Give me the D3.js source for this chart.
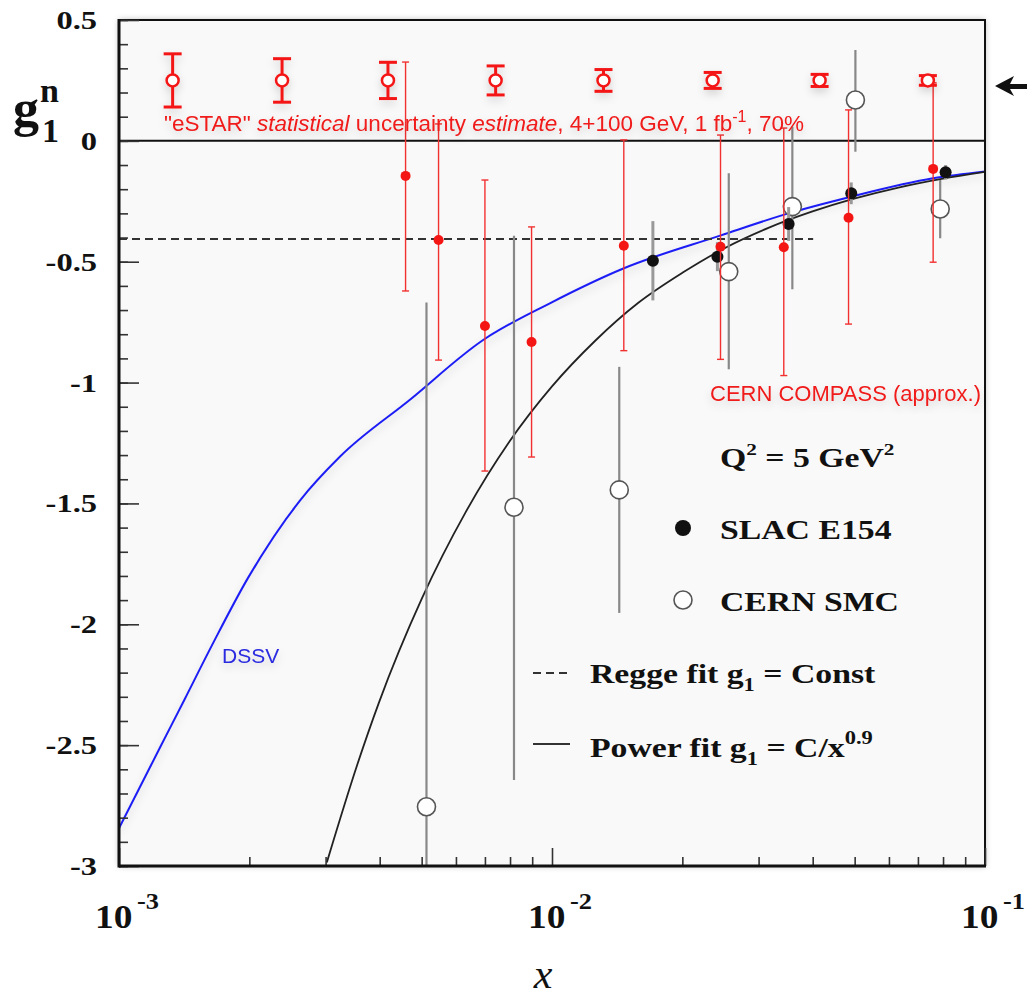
<!DOCTYPE html>
<html>
<head>
<meta charset="utf-8">
<script src="https://cdn.jsdelivr.net/npm/d3@7"></script>
<style>
body { margin: 0; background: #fff; }
</style>
</head>
<body>
<div class="chart"></div>
<script>
const width = 1027,
	height = 999

// eSTAR projected points (statistical uncertainty estimate)
const estarX = [0.00133, 0.00238, 0.00418, 0.00741, 0.01315, 0.0235, 0.0415, 0.0738]
const estarY = [0.25, 0.25, 0.25, 0.25, 0.25, 0.25, 0.25, 0.25]
const estarErr = [0.11, 0.09, 0.075, 0.06, 0.045, 0.033, 0.025, 0.02]

// CERN COMPASS (approx.)
const compassX = [0.00459, 0.00547, 0.0070, 0.00897, 0.01465, 0.0245, 0.0343, 0.0484, 0.0759]
const compassY = [-0.145, -0.41, -0.766, -0.832, -0.434, -0.438, -0.44, -0.318, -0.116]
const compassHi = [0.326, 0.07, -0.162, -0.356, 0.004, 0.024, 0.053, 0.128, 0.24]
const compassLo = [-0.621, -0.907, -1.366, -1.308, -0.868, -0.904, -0.971, -0.758, -0.502]

// SLAC E154
const slacX = [0.0171, 0.0241, 0.0352, 0.0491, 0.0811]
const slacY = [-0.496, -0.479, -0.344, -0.217, -0.13]
const slacErr = [0.164, 0.06, 0.07, 0.045, 0.03]

// CERN SMC
const smcX = [0.00513, 0.00817, 0.0143, 0.0256, 0.0359, 0.0502, 0.0788]
const smcY = [-2.755, -1.516, -1.444, -0.541, -0.272, 0.169, -0.282]
const smcHi = [-0.669, -0.393, -0.935, -0.134, 0.059, 0.376, -0.162]
const smcLo = [-4.84, -2.644, -1.953, -0.945, -0.614, -0.045, -0.403]

// DSSV curve
const dssvX = [0.001, 0.001242, 0.001419, 0.001648, 0.001986, 0.002612, 0.003236, 0.00469, 0.006934, 0.009886, 0.01466, 0.02455, 0.03516, 0.04909, 0.07586, 0.1]
const dssvY = [-2.844, -2.512, -2.309, -2.079, -1.808, -1.49, -1.307, -1.072, -0.824, -0.672, -0.527, -0.391, -0.3, -0.231, -0.155, -0.127]

// Power fit g1 = C/x^0.9
const powerX = [0.00302, 0.00355, 0.00398, 0.00501, 0.00631, 0.00794, 0.01, 0.0126, 0.0158, 0.02, 0.0251, 0.0316, 0.0398, 0.0501, 0.0631, 0.0794, 0.1]
const powerY = [-2.985, -2.581, -2.326, -1.892, -1.538, -1.249, -1.016, -0.826, -0.671, -0.546, -0.443, -0.36, -0.293, -0.238, -0.193, -0.157, -0.128]

// Regge fit g1 = Const
const reggeX = [0.001, 0.0401]
const reggeY = [-0.406, -0.406]

// axis ticks
const yMajor = [0.5, 0, -0.5, -1, -1.5, -2, -2.5, -3]
const yLabels = ['0.5', '0', '-0.5', '-1', '-1.5', '-2', '-2.5', '-3']
const yMinor = d3.range(-30, 6).map(d => d / 10)
const xMajor = [0.001, 0.01, 0.1]
const xExponents = ['-3', '-2', '-1']
const xMinor = [0.002, 0.003, 0.004, 0.005, 0.006, 0.007, 0.008, 0.009,
	0.02, 0.03, 0.04, 0.05, 0.06, 0.07, 0.08, 0.09]

const serif = '"Liberation Serif", "Times New Roman", serif'
const sans = '"Liberation Sans", Arial, sans-serif'
const stretch = 1.25
const red = '#f01a1a'

const frame = { left: 119, right: 985, top: 20, bottom: 866 }

const svg = d3
	.select('.chart')
	.append('svg')
	.attr('width', width)
	.attr('height', height)
	.style('background', '#fff')

const defs = svg.append('defs')
defs.append('filter')
	.attr('id', 'frameShadow')
	.attr('x', '-5%').attr('y', '-5%').attr('width', '110%').attr('height', '110%')
	.append('feDropShadow')
	.attr('dx', 0).attr('dy', 0).attr('stdDeviation', 3)
	.attr('flood-color', '#000').attr('flood-opacity', 0.3)
defs.append('filter')
	.attr('id', 'soft')
	.attr('x', '-20%').attr('y', '-30%').attr('width', '140%').attr('height', '160%')
	.append('feDropShadow')
	.attr('dx', 0).attr('dy', 4).attr('stdDeviation', 4)
	.attr('flood-color', '#000').attr('flood-opacity', 0.16)
defs.append('clipPath')
	.attr('id', 'plotClip')
	.append('rect')
	.attr('x', frame.left).attr('y', frame.top)
	.attr('width', frame.right - frame.left)
	.attr('height', frame.bottom - frame.top)

const x = d3.scaleLog().domain([0.001, 0.1]).range([frame.left, frame.right])
const y = d3.scaleLinear().domain([-3, 0.5]).range([frame.bottom, frame.top])

// plot background
svg.append('rect')
	.attr('x', frame.left).attr('y', frame.top)
	.attr('width', frame.right - frame.left)
	.attr('height', frame.bottom - frame.top)
	.attr('fill', '#f9f9f9')
	.attr('filter', 'url(#frameShadow)')

const plot = svg.append('g').attr('clip-path', 'url(#plotClip)')

// zero line
plot.append('line')
	.attr('x1', frame.left).attr('x2', frame.right)
	.attr('y1', y(0)).attr('y2', y(0))
	.attr('stroke', '#111').attr('stroke-width', 2)

// curves
const line = d3.line().x(d => x(d[0])).y(d => y(d[1])).curve(d3.curveMonotoneX)

plot.append('path')
	.datum(dssvX.map((d, i) => [d, dssvY[i]]))
	.attr('fill', 'none')
	.attr('stroke', '#1d1df5')
	.attr('stroke-width', 2)
	.attr('filter', 'url(#soft)')
	.attr('d', line)

plot.append('path')
	.datum(powerX.map((d, i) => [d, powerY[i]]))
	.attr('fill', 'none')
	.attr('stroke', '#222')
	.attr('stroke-width', 1.8)
	.attr('d', line)

plot.append('path')
	.datum(reggeX.map((d, i) => [d, reggeY[i]]))
	.attr('fill', 'none')
	.attr('stroke', '#333')
	.attr('stroke-width', 2)
	.attr('stroke-dasharray', '8,5')
	.attr('d', d3.line().x(d => x(d[0])).y(d => y(d[1])))

// SMC error bars + open circles
const smc = plot.append('g')
smc.selectAll('line')
	.data(smcX)
	.enter()
	.append('line')
	.attr('x1', d => x(d)).attr('x2', d => x(d))
	.attr('y1', (d, i) => y(smcHi[i]))
	.attr('y2', (d, i) => y(smcLo[i]))
	.attr('stroke', '#888')
	.attr('stroke-width', 2.2)

// SLAC error bars
const slac = plot.append('g')
slac.selectAll('line')
	.data(slacX)
	.enter()
	.append('line')
	.attr('x1', d => x(d)).attr('x2', d => x(d))
	.attr('y1', (d, i) => y(slacY[i] + slacErr[i]))
	.attr('y2', (d, i) => y(slacY[i] - slacErr[i]))
	.attr('stroke', '#999')
	.attr('stroke-width', 3)

// COMPASS error bars with small caps
const compass = plot.append('g').attr('stroke', '#f23030').attr('stroke-width', 1.4)
compassX.forEach((d, i) => {
	const cx = x(d)
	compass.append('line')
		.attr('x1', cx).attr('x2', cx)
		.attr('y1', y(compassHi[i])).attr('y2', y(compassLo[i]))
	;[compassHi[i], compassLo[i]].forEach(v => {
		compass.append('line')
			.attr('x1', cx - 3.5).attr('x2', cx + 3.5)
			.attr('y1', y(v)).attr('y2', y(v))
	})
})

smc.selectAll('circle')
	.data(smcX)
	.enter()
	.append('circle')
	.attr('cx', d => x(d))
	.attr('cy', (d, i) => y(smcY[i]))
	.attr('r', 9)
	.attr('fill', '#fff')
	.attr('stroke', '#555')
	.attr('stroke-width', 1.6)

slac.selectAll('circle')
	.data(slacX)
	.enter()
	.append('circle')
	.attr('cx', d => x(d))
	.attr('cy', (d, i) => y(slacY[i]))
	.attr('r', 6)
	.attr('fill', '#111')

compass.selectAll('circle')
	.data(compassX)
	.enter()
	.append('circle')
	.attr('cx', d => x(d))
	.attr('cy', (d, i) => y(compassY[i]))
	.attr('r', 5)
	.attr('fill', '#f41515')
	.attr('stroke', 'none')

// eSTAR projection markers
const estar = plot.append('g')
	.attr('stroke', '#f41515')
	.attr('filter', 'url(#soft)')
estarX.forEach((d, i) => {
	const cx = x(d)
	const top = y(estarY[i] + estarErr[i])
	const bot = y(estarY[i] - estarErr[i])
	estar.append('line')
		.attr('x1', cx).attr('x2', cx).attr('y1', top).attr('y2', bot)
		.attr('stroke-width', 3)
	;[top, bot].forEach(v => {
		estar.append('line')
			.attr('x1', cx - 9).attr('x2', cx + 9)
			.attr('y1', v).attr('y2', v)
			.attr('stroke-width', 3)
	})
	estar.append('circle')
		.attr('cx', cx).attr('cy', y(estarY[i]))
		.attr('r', 6)
		.attr('fill', '#fff')
		.attr('stroke-width', 2.5)
})

// frame and axes
const axes = svg.append('g')
axes.append('rect')
	.attr('x', frame.left).attr('y', frame.top)
	.attr('width', frame.right - frame.left)
	.attr('height', frame.bottom - frame.top)
	.attr('fill', 'none')
	.attr('stroke', '#111')
	.attr('stroke-width', 2)

const yMinorAxis = axes.append('g')
	.attr('transform', `translate(${frame.left},0)`)
	.call(d3.axisRight(y).tickValues(yMinor).tickSize(9).tickFormat(''))
const yMajorAxis = axes.append('g')
	.attr('transform', `translate(${frame.left},0)`)
	.call(d3.axisRight(y).tickValues(yMajor).tickSize(20).tickFormat(''))
const xMinorAxis = axes.append('g')
	.attr('transform', `translate(0,${frame.bottom})`)
	.call(d3.axisTop(x).tickValues(xMinor).tickSize(9).tickFormat(''))
const xMajorAxis = axes.append('g')
	.attr('transform', `translate(0,${frame.bottom})`)
	.call(d3.axisTop(x).tickValues(xMajor).tickSize(18).tickFormat(''))

axes.selectAll('.domain').remove()
axes.selectAll('.tick line').attr('stroke', '#333').attr('stroke-width', 1.6)

axes.append('line')
	.attr('x1', frame.left).attr('x2', frame.left)
	.attr('y1', frame.top - 1).attr('y2', frame.bottom + 1.5)
	.attr('stroke', '#111').attr('stroke-width', 3)
axes.append('line')
	.attr('x1', frame.left).attr('x2', frame.right + 1)
	.attr('y1', frame.bottom).attr('y2', frame.bottom)
	.attr('stroke', '#111').attr('stroke-width', 3)

// stretched bold serif text, like the original labels
function serifText(parent, px, py, size, anchor, sx = stretch) {
	return parent.append('text')
		.attr('transform', `translate(${px},${py}) scale(${sx},1)`)
		.attr('text-anchor', anchor)
		.style('font-family', serif)
		.style('font-weight', 'bold')
		.style('font-size', size + 'px')
		.attr('fill', '#111')
}

// y tick labels
yMajor.forEach((v, i) => {
	serifText(svg, 97, y(v) + 9, 26, 'end').text(yLabels[i])
})

// x tick labels: 10^n
xMajor.forEach((v, i) => {
	const t = serifText(svg, x(v) + 8, 928, 34, 'middle', 1.1)
	t.append('tspan').text('10')
	t.append('tspan').attr('dx', 4).attr('dy', -19).style('font-size', '24px').text(xExponents[i])
})

// axis titles
svg.append('text')
	.attr('x', 543)
	.attr('y', 988)
	.attr('text-anchor', 'middle')
	.style('font-family', serif)
	.style('font-style', 'italic')
	.style('font-size', '42px')
	.attr('fill', '#111')
	.text('x')

const gLabel = svg.append('text')
	.style('font-family', serif)
	.style('font-weight', 'bold')
	.attr('fill', '#111')
gLabel.append('tspan').attr('x', 13).attr('y', 126).style('font-size', '52px').text('g')
gLabel.append('tspan').attr('x', 40).attr('y', 102).style('font-size', '34px').text('n')
gLabel.append('tspan').attr('x', 42).attr('y', 142).style('font-size', '34px').text('1')

// red annotations
const note = svg.append('text')
	.attr('x', 164)
	.attr('y', 131)
	.style('font-family', sans)
	.style('font-size', '22.5px')
	.attr('fill', red)
	.attr('filter', 'url(#soft)')
note.append('tspan').text('"eSTAR" ')
note.append('tspan').style('font-style', 'italic').text('statistical')
note.append('tspan').text(' uncertainty ')
note.append('tspan').style('font-style', 'italic').text('estimate')
note.append('tspan').text(', 4+100 GeV, 1 fb')
note.append('tspan').attr('dy', -9).style('font-size', '16px').text('-1')
note.append('tspan').attr('dy', 9).text(', 70%')

svg.append('text')
	.attr('x', 981)
	.attr('y', 401)
	.attr('text-anchor', 'end')
	.style('font-family', sans)
	.style('font-size', '22px')
	.attr('fill', red)
	.attr('filter', 'url(#soft)')
	.text('CERN COMPASS (approx.)')

svg.append('text')
	.attr('x', 222)
	.attr('y', 663)
	.style('font-family', sans)
	.style('font-size', '21px')
	.attr('fill', '#2a2ae0')
	.attr('filter', 'url(#soft)')
	.text('DSSV')

// legend
const legend = svg.append('g')
const q2 = serifText(legend, 720, 467, 27, 'start')
q2.append('tspan').text('Q')
q2.append('tspan').attr('dy', -12).style('font-size', '17px').text('2')
q2.append('tspan').attr('dy', 12).text(' = 5 GeV')
q2.append('tspan').attr('dy', -12).style('font-size', '17px').text('2')

legend.append('circle').attr('cx', 683).attr('cy', 528).attr('r', 8).attr('fill', '#111')
serifText(legend, 720, 539, 27, 'start').text('SLAC E154')

legend.append('circle').attr('cx', 683).attr('cy', 600).attr('r', 9)
	.attr('fill', '#fff').attr('stroke', '#555').attr('stroke-width', 1.6)
serifText(legend, 720, 611, 27, 'start').text('CERN SMC')

legend.append('line')
	.attr('x1', 533).attr('x2', 569).attr('y1', 673).attr('y2', 673)
	.attr('stroke', '#333').attr('stroke-width', 2).attr('stroke-dasharray', '8,5')
const regge = serifText(legend, 590, 683, 27, 'start')
regge.append('tspan').text('Regge fit g')
regge.append('tspan').attr('dy', 8).style('font-size', '18px').text('1')
regge.append('tspan').attr('dy', -8).text(' = Const')

legend.append('line')
	.attr('x1', 533).attr('x2', 570).attr('y1', 744).attr('y2', 744)
	.attr('stroke', '#333').attr('stroke-width', 2)
const power = serifText(legend, 590, 757, 27, 'start')
power.append('tspan').text('Power fit g')
power.append('tspan').attr('dy', 8).style('font-size', '18px').text('1')
power.append('tspan').attr('dy', -8).text(' = C/x')
power.append('tspan').attr('dy', -13).style('font-size', '18px').text('0.9')

// arrow on the right edge
svg.append('path')
	.attr('d', d3.line()([[995, 86], [1014, 76], [1010, 84], [1027, 84], [1027, 89], [1010, 89], [1014, 96]]) + 'Z')
	.attr('fill', '#111')
</script>
</body>
</html>
